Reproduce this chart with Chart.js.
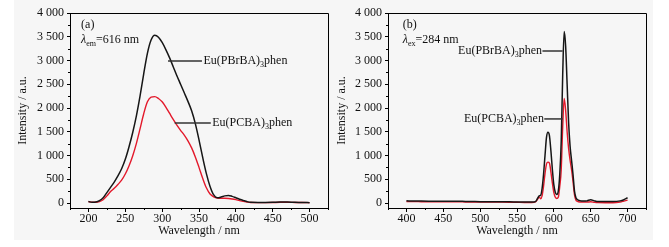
<!DOCTYPE html>
<html>
<head>
<meta charset="utf-8">
<script src="https://cdn.jsdelivr.net/npm/chart.js@4"></script>
<style>
body { margin: 0; background: #fff; width: 669px; height: 247px; position: relative; overflow: hidden; }
#bg { position: absolute; left: 14px; top: 0; width: 639px; height: 240px; background: #f6f6f6; }
canvas { position: absolute; top: 0; }
</style>
</head>
<body>
<div id="bg"></div>
<canvas id="c1" width="330" height="247" style="left:0"></canvas>
<canvas id="c2" width="339" height="247" style="left:330px"></canvas>
<script>
// (a) excitation spectra, lambda_em = 616 nm
var exWl = [200,205,210,215,220,225,230,235,240,245,250,255,260,265,270,275,280,285,290,295,
            300,305,310,315,320,325,330,335,340,345,350,355,360,365,370,375,380,385,390,395,
            400,405,410,415,420,430,440,450,460,470,480,490,500];
var exPBrBA = [30,15,20,50,110,220,330,440,570,720,920,1180,1480,1830,2250,2720,3150,3430,3530,3490,
               3380,3230,3060,2870,2680,2500,2320,2140,1940,1670,1330,960,620,350,170,110,125,150,160,140,
               110,80,55,30,15,12,12,15,22,20,15,12,8];
var exPCBA = [30,15,15,30,70,150,240,310,390,480,610,780,990,1250,1560,1880,2130,2230,2240,2200,
              2130,2020,1890,1760,1640,1530,1430,1310,1160,970,750,520,320,190,130,105,100,100,95,85,
              70,50,35,20,10,8,8,10,15,15,12,10,8];

// (b) emission spectra, lambda_ex = 284 nm
var emWl = [400,410,420,430,440,450,460,470,480,490,500,510,520,530,540,550,560,570,575,578,
            580,582,584,586,588,590,592,594,596,598,600,602,604,606,608,610,612,614,616,618,
            620,622,624,626,628,630,632,635,640,645,650,655,660,670,680,690,695,700];
var emPBrBA = [45,42,40,38,36,35,35,38,32,30,28,27,25,26,25,22,20,20,30,100,
               150,160,300,600,1000,1380,1490,1420,1100,700,380,220,180,250,600,1300,2700,3610,3300,2500,
               1700,1200,900,600,250,110,70,50,40,45,70,45,30,30,30,45,70,110];
var emPCBA = [30,30,28,27,25,25,25,28,22,20,20,20,18,18,17,15,12,12,25,80,
              130,90,150,350,620,820,860,840,650,420,220,120,95,120,350,700,1600,2200,1950,1500,
              1150,900,700,450,170,60,35,22,20,20,25,15,8,5,5,20,40,60];

var yTicks = [0,500,1000,1500,2000,2500,3000,3500,4000];
var exTicks = [200,250,300,350,400,450,500];
var emTicks = [400,450,500,550,600,650,700];

var serif = 'Liberation Serif, Times New Roman, serif';

function fmt(v) {
    if (v >= 1000) return Math.floor(v / 1000) + ' ' + String(v % 1000).padStart(3, '0');
    return String(v);
}

// text with subscripts / italic parts
function drawRich(ctx, x, y, segs, align) {
    var w = 0;
    segs.forEach(function(s) {
        ctx.font = (s.it ? 'italic ' : '') + (s.sub ? '8px ' : '12px ') + serif;
        s.w = ctx.measureText(s.t).width;
        w += s.w;
    });
    var cx = align == 'right' ? x - w : x;
    segs.forEach(function(s) {
        ctx.font = (s.it ? 'italic ' : '') + (s.sub ? '8px ' : '12px ') + serif;
        ctx.fillText(s.t, cx, s.sub ? y + 4 : y);
        cx += s.w;
    });
}

var framePlugin = {
    id: 'frame',
    afterDraw: function(chart) {
        var ctx = chart.ctx, a = chart.chartArea;
        var xs = chart.scales.x, ys = chart.scales.y;
        ctx.save();
        ctx.strokeStyle = '#000';
        ctx.lineWidth = 1;
        ctx.beginPath();
        ctx.moveTo(a.left, a.top + 0.5);
        ctx.lineTo(a.right + 0.5, a.top + 0.5);
        ctx.lineTo(a.right + 0.5, a.bottom);
        ctx.stroke();
        // minor ticks
        ctx.beginPath();
        for (var v = 250; v < 4000; v += 500) {
            var py = Math.round(ys.getPixelForValue(v)) + 0.5;
            ctx.moveTo(a.left - 2, py);
            ctx.lineTo(a.left, py);
        }
        for (var x = Math.ceil(xs.min / 25) * 25; x <= xs.max; x += 25) {
            if (x % 50 == 0) continue;
            var px = Math.round(xs.getPixelForValue(x)) + 0.5;
            ctx.moveTo(px, a.bottom);
            ctx.lineTo(px, a.bottom + 2);
        }
        ctx.stroke();
        ctx.restore();
    }
};

function notesPlugin(notes) {
    return {
        id: 'notes',
        afterDatasetsDraw: function(chart) {
            var ctx = chart.ctx, xs = chart.scales.x, ys = chart.scales.y;
            ctx.save();
            ctx.fillStyle = '#111';
            ctx.textBaseline = 'middle';
            notes.forEach(function(n) {
                var y = ys.getPixelForValue(n.y);
                if (n.line) {
                    ctx.strokeStyle = '#333';
                    ctx.lineWidth = 1.5;
                    ctx.beginPath();
                    ctx.moveTo(xs.getPixelForValue(n.line[0]), y);
                    ctx.lineTo(xs.getPixelForValue(n.line[1]), y);
                    ctx.stroke();
                }
                drawRich(ctx, xs.getPixelForValue(n.x), y, n.segs, n.align);
            });
            ctx.restore();
        }
    };
}

function spectrum(id, wl, black, red, xMin, xMax, xTicks, axisW, padRight, titlePad, notes) {
    var ctx = document.getElementById(id).getContext('2d');
    var chart = new Chart(ctx, {
        type: 'line',
        data: {
            datasets: [{
                data: wl.map(function(x, i) { return {x: x, y: black[i]}; }),
                borderColor: '#161616',
                borderWidth: 1.5,
                order: 0
            }, {
                data: wl.map(function(x, i) { return {x: x, y: red[i]}; }),
                borderColor: '#e3192b',
                borderWidth: 1.4,
                order: 1
            }]
        },
        options: {
            responsive: false,
            animation: false,
            layout: {padding: {left: 0, right: padRight, top: 13, bottom: 0}},
            elements: {
                point: {radius: 0},
                line: {cubicInterpolationMode: 'monotone'}
            },
            plugins: {legend: {display: false}, tooltip: {enabled: false}},
            scales: {
                x: {
                    type: 'linear',
                    min: xMin,
                    max: xMax,
                    afterBuildTicks: function(s) { s.ticks = xTicks.map(function(v) { return {value: v}; }); },
                    afterFit: function(s) { s.height = 39; },
                    grid: {drawOnChartArea: false, tickLength: 4, color: '#000'},
                    border: {color: '#000'},
                    ticks: {autoSkip: false, maxRotation: 0, padding: 0, color: '#111',
                            font: {family: serif, size: 12}},
                    title: {display: true, text: 'Wavelength / nm', color: '#111',
                            font: {family: serif, size: 12}, padding: {top: 9, bottom: 9}}
                },
                y: {
                    type: 'linear',
                    min: -105,
                    max: 4000,
                    afterBuildTicks: function(s) { s.ticks = yTicks.map(function(v) { return {value: v}; }); },
                    afterFit: function(s) { s.width = axisW; },
                    grid: {drawOnChartArea: false, tickLength: 3, color: '#000'},
                    border: {color: '#000'},
                    ticks: {autoSkip: false, padding: 3, color: '#111',
                            font: {family: serif, size: 12},
                            callback: function(v) { return fmt(v); }},
                    title: {display: true, text: 'Intensity / a.u.', color: '#111',
                            font: {family: serif, size: 12}, padding: {top: titlePad, bottom: titlePad}}
                }
            }
        },
        plugins: [framePlugin, notesPlugin(notes)]
    });
    return chart;
}

var sub3 = function(name) { return [{t: name}, {t: '3', sub: true}, {t: 'phen'}]; };

spectrum('c1', exWl, exPBrBA, exPCBA, 175, 525, exTicks, 70, 2, 16, [
    {x: 190, y: 3750, segs: [{t: '(a)'}]},
    {x: 190, y: 3440, segs: [{t: 'λ', it: true}, {t: 'em', sub: true}, {t: '=616 nm'}]},
    {x: 356, y: 2990, line: [308, 354], segs: sub3('Eu(PBrBA)')},
    {x: 368, y: 1685, line: [317, 366], segs: sub3('Eu(PCBA)')}
]);

spectrum('c2', emWl, emPBrBA, emPCBA, 375, 725, emTicks, 58, 23, 5, [
    {x: 395, y: 3750, segs: [{t: '(b)'}]},
    {x: 395, y: 3440, segs: [{t: 'λ', it: true}, {t: 'ex', sub: true}, {t: '=284 nm'}]},
    {x: 584, y: 3200, line: [584.5, 612], segs: sub3('Eu(PBrBA)'), align: 'right'},
    {x: 586.5, y: 1770, line: [587, 612], segs: sub3('Eu(PCBA)'), align: 'right'}
]);
</script>
</body>
</html>
